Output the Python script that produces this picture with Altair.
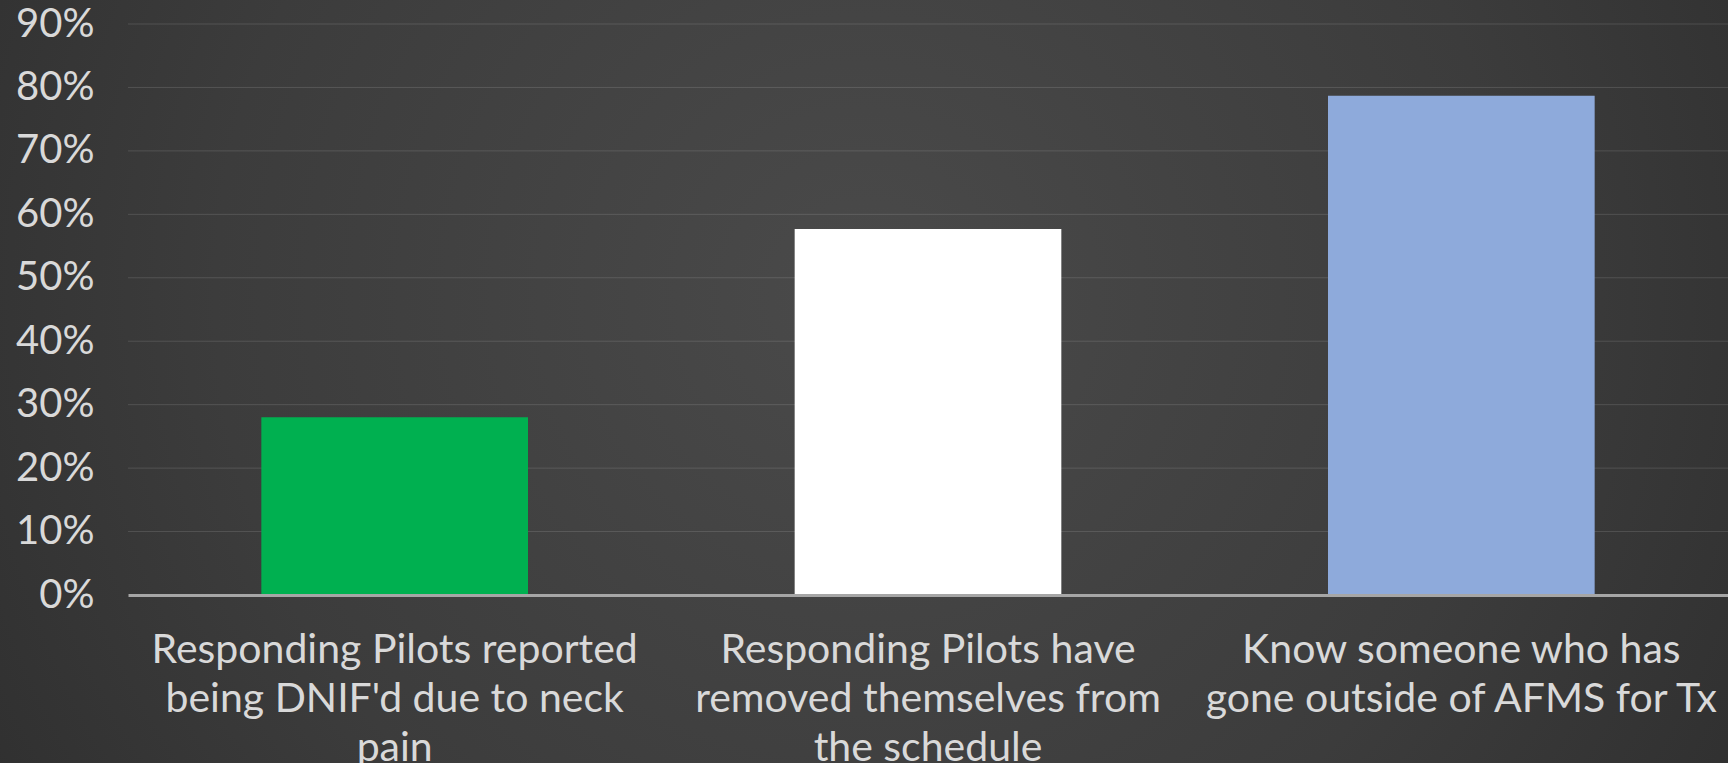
import altair as alt
import pandas as pd

categories = [
    "Responding Pilots reported|being DNIF'd due to neck|pain",
    "Responding Pilots have|removed themselves from|the schedule",
    "Know someone who has|gone outside of AFMS for Tx",
]
values = [0.28, 0.577, 0.787]
colors = ["#00b050", "#ffffff", "#8eaadb"]
tick_values = [0, 0.1, 0.2, 0.3, 0.4, 0.5, 0.6, 0.7, 0.8, 0.9]
grid_values = [0.1, 0.2, 0.3, 0.4, 0.5, 0.6, 0.7, 0.8, 0.9]

df = pd.DataFrame({"cat": categories, "val": values, "col": colors})
grid_df = pd.DataFrame({"v": grid_values})
bg_df = pd.DataFrame({"a": [0]})

text_color = "#d9d9d9"
font = "Lato"

W, H = 1600, 571
PL, PT, PR, PB = 128, 24, 0, 168

y_scale = alt.Scale(domain=[0, 0.9])
y_axis = alt.Axis(
    title=None,
    format=".0%",
    values=tick_values,
    labelFont=font,
    labelFontSize=40,
    labelColor=text_color,
    labelPadding=34,
    ticks=False,
    domain=False,
    grid=False,
    zindex=1,
)

bg = alt.Chart(bg_df).mark_rect(
    clip=False,
    color=alt.RadialGradient(
        gradient="radial",
        x1=0.5, y1=0.45, r1=0.0,
        x2=0.5, y2=0.45, r2=0.75,
        stops=[
            alt.GradientStop(color="#4a4a4a", offset=0),
            alt.GradientStop(color="#3c3c3c", offset=0.5),
            alt.GradientStop(color="#262626", offset=1),
        ],
    ),
).encode(
    x=alt.value(-PL), x2=alt.value(W + PR),
    y=alt.value(-PT), y2=alt.value(H + PB),
)

grid = alt.Chart(grid_df).mark_rule(color="#ffffff", opacity=0.13, strokeWidth=1).encode(
    y=alt.Y("v:Q", title=None, axis=y_axis, scale=y_scale)
)

bars = alt.Chart(df).mark_bar().encode(
    x=alt.X(
        "cat:N",
        sort=categories,
        scale=alt.Scale(paddingInner=0.5, paddingOuter=0.25),
        axis=alt.Axis(
            title=None,
            labelAngle=0,
            labelExpr="split(datum.label, '|')",
            labelFont=font,
            labelFontSize=41,
            labelLineHeight=49,
            labelLimit=800,
            labelColor=text_color,
            labelPadding=35,
            ticks=False,
            domainColor="#a6a6a6",
            domainWidth=3,
            grid=False,
            zindex=1,
        ),
    ),
    y=alt.Y("val:Q", title=None, scale=y_scale, axis=y_axis),
    color=alt.Color("col:N", scale=None, legend=None),
)

chart = alt.layer(bg, grid, bars).properties(
    width=W,
    height=H,
    background="#262626",
    padding={"left": PL, "top": PT, "right": PR, "bottom": PB},
    autosize=alt.AutoSizeParams(type="none"),
).configure_view(stroke=None)

chart.save("out.html", embed_options={"renderer": "svg", "actions": False})
